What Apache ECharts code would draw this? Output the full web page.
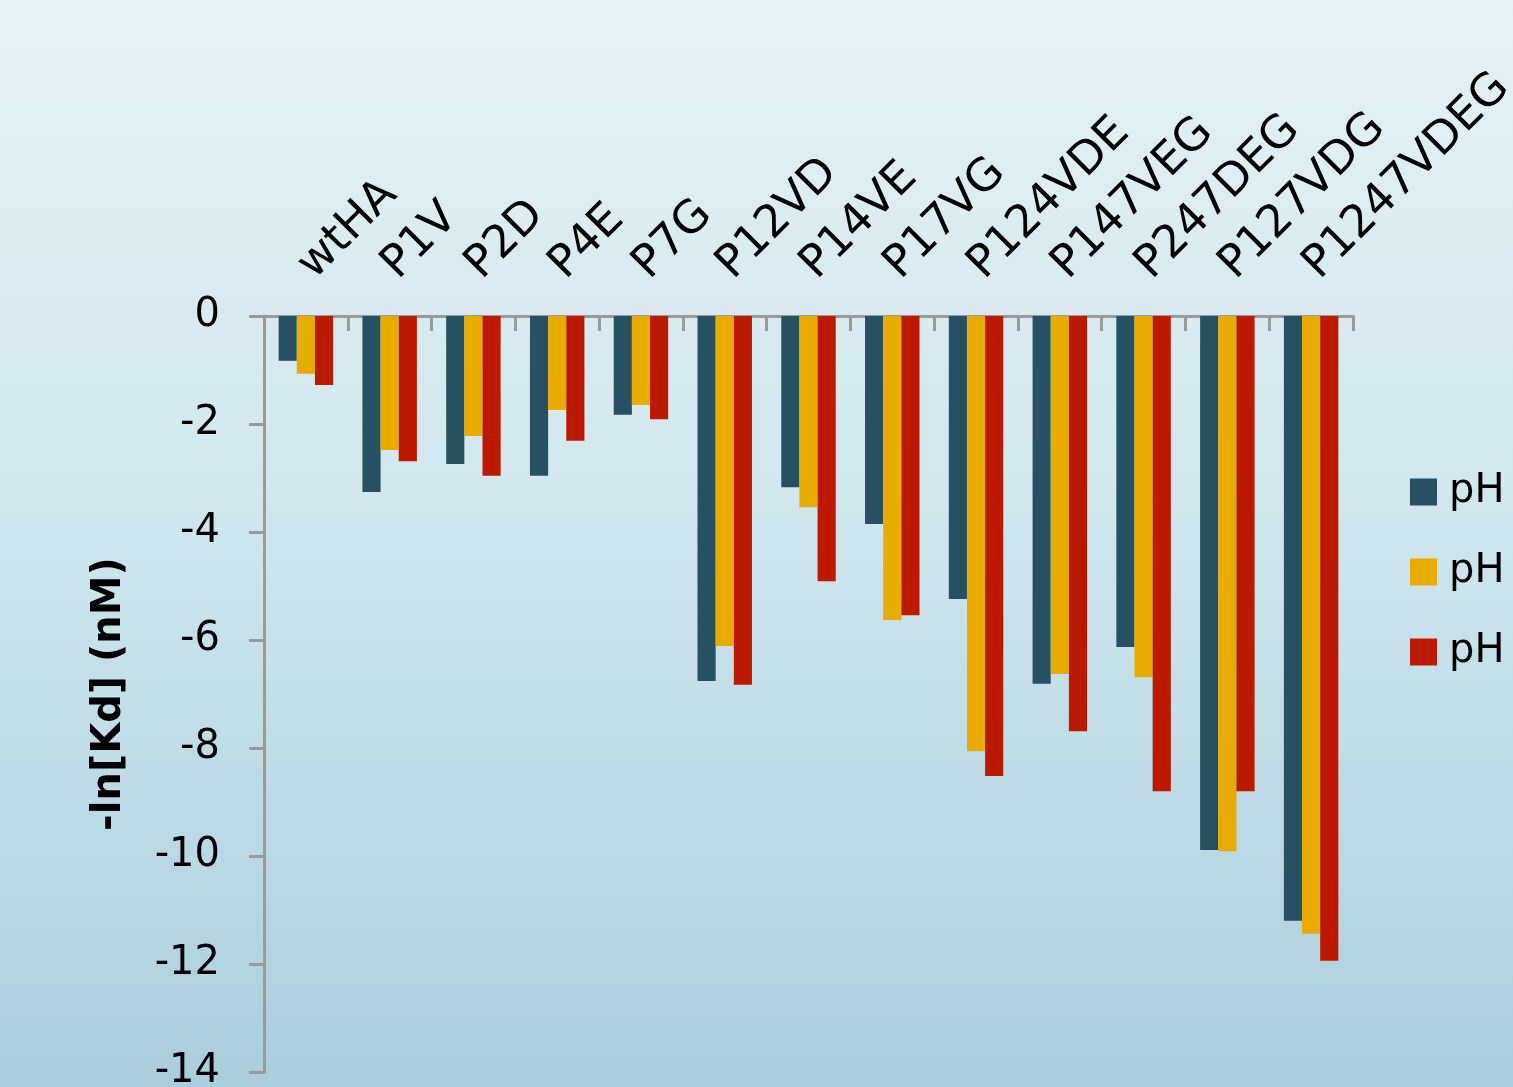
<!DOCTYPE html>
<html>
<head>
<meta charset="utf-8">
<script src="https://cdn.jsdelivr.net/npm/echarts@6/dist/echarts.min.js"></script>
<style>
html, body { margin: 0; padding: 0; }
#chart { width: 1513px; height: 1087px; }
</style>
</head>
<body>
<div id="chart"></div>
<script>
var categories = ["wtHA", "P1V", "P2D", "P4E", "P7G", "P12VD", "P14VE", "P17VG", "P124VDE", "P147VEG", "P247DEG", "P127VDG", "P1247VDEG"];
var seriesNames = ["pH (1)", "pH (2)", "pH (3)"];
var phA = [-0.83, -3.26, -2.74, -2.96, -1.83, -6.76, -3.17, -3.85, -5.24, -6.81, -6.13, -9.89, -11.2];
var phB = [-1.07, -2.48, -2.22, -1.74, -1.65, -6.11, -3.54, -5.63, -8.06, -6.63, -6.69, -9.91, -11.44];
var phC = [-1.28, -2.69, -2.96, -2.31, -1.91, -6.83, -4.91, -5.54, -8.52, -7.69, -8.8, -8.8, -11.94];
var colors = ["#265161", "#E8AC00", "#BB1A00"];

var font = "DejaVu Sans";
var chart = echarts.init(document.getElementById("chart"));
var option = {
  backgroundColor: {
    type: "linear", x: 0, y: 0, x2: 0, y2: 1,
    colorStops: [
      { offset: 0, color: "#e4f1f4" },
      { offset: 0.45, color: "#d2e7ee" },
      { offset: 1, color: "#a9cfdb" }
    ]
  },
  animation: false,
  color: colors,
  grid: { left: 264, right: 160, top: 316, bottom: 15, outerBoundsMode: "none", containLabel: false },
  legend: {
    orient: "vertical",
    left: 1405,
    top: 467,
    itemWidth: 27,
    itemHeight: 27,
    itemGap: 40,
    icon: "rect",
    formatter: function () { return "pH"; },
    textStyle: { fontFamily: font, fontSize: 40, color: "#000", padding: [0, 0, 0, 7] },
    data: seriesNames
  },
  xAxis: {
    type: "category",
    position: "top",
    data: categories,
    axisLine: { onZero: false, lineStyle: { color: "#9a9a9a", width: 3 } },
    axisTick: { show: true, inside: true, length: 15, lineStyle: { color: "#9a9a9a", width: 3 } },
    axisLabel: { rotate: -45, margin: 44, interval: 0, fontFamily: font, fontSize: 45, color: "#000" }
  },
  yAxis: {
    type: "value",
    min: -14,
    max: 0,
    interval: 2,
    name: "-ln[Kd] (nM)",
    nameLocation: "middle",
    nameGap: 134,
    nameRotate: 90,
    nameTextStyle: { fontFamily: font, fontSize: 40, fontWeight: "bold", color: "#000" },
    axisLine: { show: true, lineStyle: { color: "#9a9a9a", width: 3 } },
    axisTick: { show: true, length: 15, lineStyle: { color: "#9a9a9a", width: 3 } },
    splitLine: { show: false },
    axisLabel: { margin: 44, fontFamily: font, fontSize: 40, color: "#000" }
  },
  series: [
    { name: seriesNames[0], type: "bar", data: phA, barGap: "0%", barCategoryGap: "35%" },
    { name: seriesNames[1], type: "bar", data: phB, barGap: "0%", barCategoryGap: "35%" },
    { name: seriesNames[2], type: "bar", data: phC, barGap: "0%", barCategoryGap: "35%" }
  ]
};
chart.setOption(option);
</script>
</body>
</html>
